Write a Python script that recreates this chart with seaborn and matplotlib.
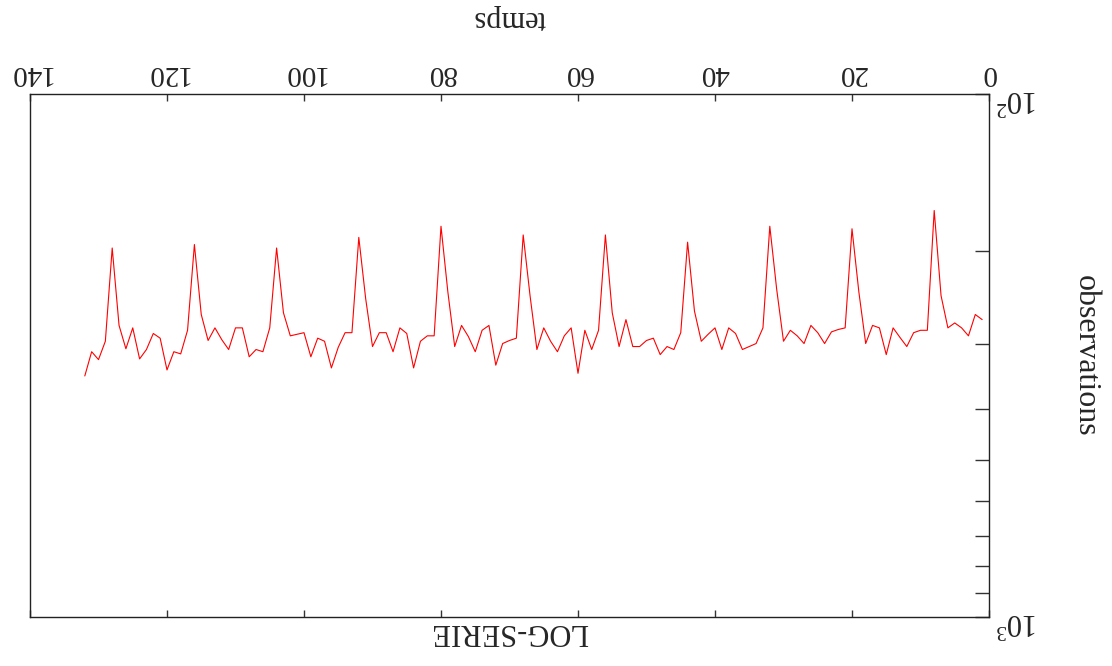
import matplotlib
matplotlib.use("Agg")
import matplotlib.pyplot as plt
import numpy as np
import pandas as pd
import seaborn as sns
from matplotlib.ticker import FixedLocator, FixedFormatter, LogLocator, NullFormatter

# ---- data ----
temps = list(range(1, 133))
observations = [
    270, 264, 290, 280, 274, 280, 243, 167, 283, 283, 286, 304,
    292, 280, 315, 280, 277, 300, 239, 181, 280, 282, 285, 300,
    286, 277, 300, 290, 283, 297, 236, 179, 280, 300, 304, 308,
    287, 280, 308, 280, 288, 297, 260, 192, 286, 308, 304, 315,
    293, 296, 304, 304, 270, 304, 262, 186, 283, 308, 283, 342,
    280, 290, 311, 297, 280, 308, 243, 186, 293, 296, 300, 330,
    277, 283, 311, 291, 277, 304, 239, 179, 290, 290, 297, 334,
    287, 280, 311, 286, 286, 304, 246, 188, 286, 286, 305, 334,
    297, 293, 318, 286, 288, 290, 262, 197, 280, 311, 308, 318,
    280, 280, 308, 295, 280, 296, 264, 194, 283, 314, 311, 337,
    293, 287, 308, 321, 280, 307, 277, 197, 297, 322, 311, 346,
]
x_ticks = [0, 20, 40, 60, 80, 100, 120, 140]
x_tick_labels = ["0", "20", "40", "60", "80", "100", "120", "140"]
y_ticks = [100, 1000]
y_tick_labels = [r"$10^{2}$", r"$10^{3}$"]
title_text = "LOG-SERIE"
xlabel_text = "temps"
ylabel_text = "observations"

sns.set_theme(style="white")
plt.rcParams["font.family"] = ["Liberation Serif", "DejaVu Serif"]
plt.rcParams["mathtext.fontset"] = "custom"
plt.rcParams["mathtext.rm"] = "Liberation Serif"
plt.rcParams["mathtext.it"] = "Liberation Serif:italic"
plt.rcParams["mathtext.bf"] = "Liberation Serif:bold"

W, H = 1112, 666
fig = plt.figure(figsize=(W / 100, H / 100), dpi=100)
L, R, T, B = 30, 989, 94, 617
ax = fig.add_axes([L / W, 1 - B / H, (R - L) / W, (B - T) / H])

df = pd.DataFrame({"temps": temps, "observations": observations})
sns.lineplot(data=df, x="temps", y="observations", color="#ff0000",
             linewidth=0.8, ax=ax)

ax.set_yscale("log")
ax.set_xlim(140, 0)
ax.set_ylim(1000, 100)

for s in ax.spines.values():
    s.set_color("#222222")
    s.set_linewidth(1.0)

# x axis on top, ticks inward top and bottom
ax.xaxis.set_major_locator(FixedLocator(x_ticks))
ax.xaxis.set_major_formatter(FixedFormatter(x_tick_labels))
ax.xaxis.tick_top()
ax.tick_params(axis="x", which="major", top=True, bottom=True, labeltop=True,
               labelbottom=False, direction="in", length=5, width=1,
               color="#333333", labelsize=21, pad=6, labelrotation=180)

# y axis on right, ticks inward
ax.yaxis.set_major_locator(FixedLocator(y_ticks))
ax.yaxis.set_major_formatter(FixedFormatter(y_tick_labels))
ax.yaxis.set_minor_locator(LogLocator(base=10, subs=np.arange(2, 10)))
ax.yaxis.set_minor_formatter(NullFormatter())
ax.yaxis.tick_right()
ax.tick_params(axis="y", which="both", right=True, left=False,
               labelright=True, labelleft=False, direction="in",
               width=1, color="#333333")
ax.tick_params(axis="y", which="major", length=10, labelsize=22, pad=5,
               labelrotation=180)
ax.tick_params(axis="y", which="minor", length=10)

ax.xaxis.set_label_position("top")
ax.yaxis.set_label_position("right")
ax.set_xlabel(xlabel_text, fontsize=22)
ax.set_ylabel(ylabel_text, fontsize=23)
xl = ax.xaxis.label
xl.set_rotation(180)
xl.set_rotation_mode("default")
xl.set_ha("center")
xl.set_va("center")
ax.xaxis.set_label_coords(0.5, (H - 18 - (H - B)) / (B - T))
yl = ax.yaxis.label
yl.set_rotation(270)
yl.set_rotation_mode("default")
yl.set_ha("center")
yl.set_va("center")
ax.yaxis.set_label_coords((1085 - L) / (R - L), 0.5)
ax.set_title(title_text, rotation=180, fontsize=22,
             y=((H - 640) - (H - B)) / (B - T), va="center")
ax.grid(False)

fig.savefig("out.png", dpi=100, facecolor="white")
